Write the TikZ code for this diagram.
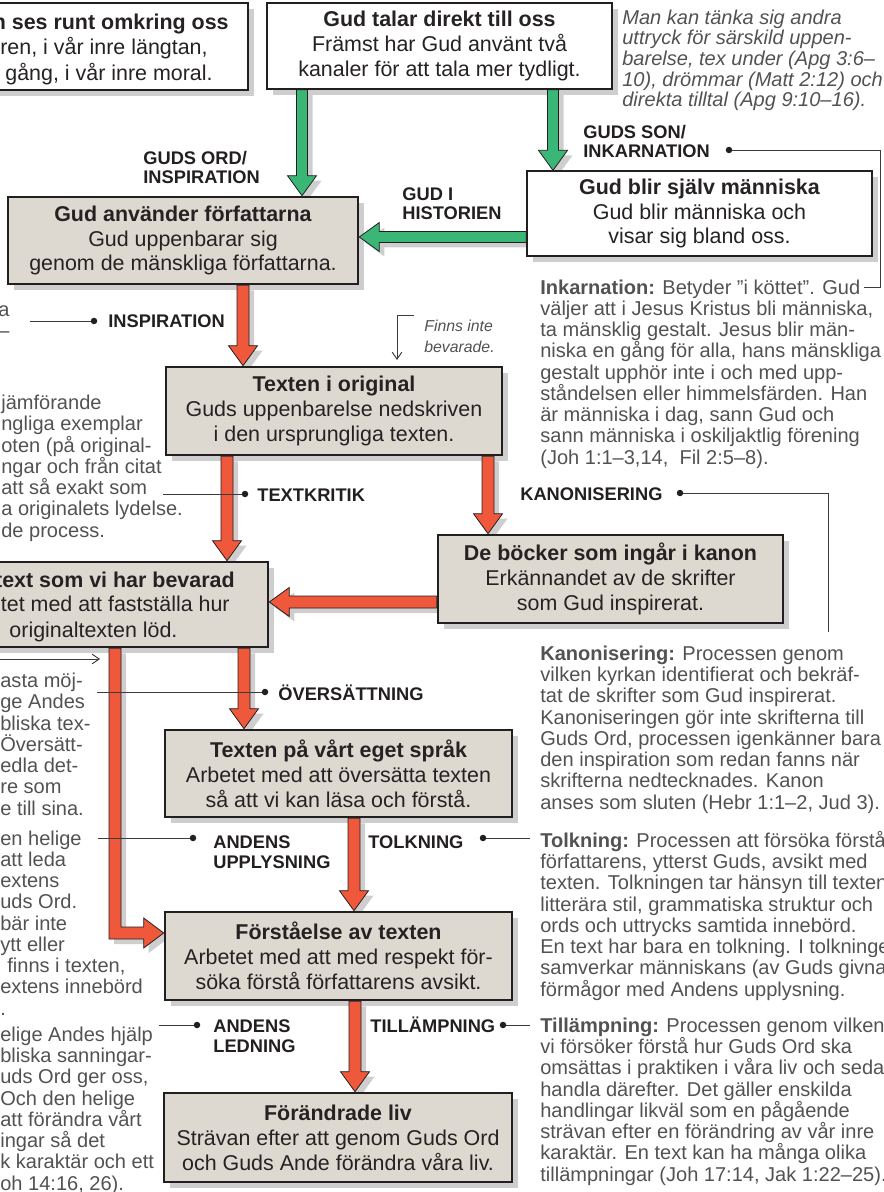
\documentclass[tikz,border=0pt]{standalone}
\usepackage{fontspec}
\setmainfont{Liberation Sans}
\usetikzlibrary{arrows.meta, positioning, calc, shadows}
\definecolor{boxfill}{RGB}{222,217,208}
\definecolor{boxline}{RGB}{35,31,32}
\definecolor{boxtext}{RGB}{38,34,35}
\definecolor{shadowgray}{RGB}{206,206,206}
\definecolor{greenfill}{RGB}{58,183,118}
\definecolor{redfill}{RGB}{240,88,60}
\definecolor{paragray}{RGB}{82,82,82}
\definecolor{leadergray}{RGB}{60,60,60}
\pgfdeclarelayer{arrowshadow}
\pgfsetlayers{arrowshadow,main}
\newcommand{\boxtextfont}{\fontsize{12.2}{14.2}\selectfont}
\newcommand{\tagtextfont}{\fontsize{10.4}{11.34}\selectfont\bfseries}
\newcommand{\paratextfont}{\fontsize{11.4}{12.07}\selectfont}
\newcommand{\notetextfont}{\fontsize{11.4}{11.8}\selectfont\itshape}
% block arrow: colour, from, to, half shaft width
\newcommand{\blockarrow}[4]{%
  \coordinate (ba-s) at (#2);
  \coordinate (ba-e) at (#3);
  \coordinate (ba-n) at ($(ba-e)!0.4cm!(ba-s)$);
  \coordinate (bs-s) at ($(ba-s)+(5,5)$);
  \coordinate (bs-e) at ($(ba-e)+(5,5)$);
  \coordinate (bs-n) at ($(ba-n)+(5,5)$);
  \begin{pgfonlayer}{arrowshadow}
    \fill[shadowgray] ($(bs-s)!#4!90:(bs-e)$) -- ($(bs-n)!#4!-90:(bs-s)$) -- ($(bs-n)!0.29cm!-90:(bs-s)$) -- (bs-e)
      -- ($(bs-n)!0.29cm!90:(bs-s)$) -- ($(bs-n)!#4!90:(bs-s)$) -- ($(bs-s)!#4!-90:(bs-e)$) -- cycle;
  \end{pgfonlayer}
  \filldraw[fill=#1, blockedge] ($(ba-s)!#4!90:(ba-e)$) -- ($(ba-n)!#4!-90:(ba-s)$) -- ($(ba-n)!0.29cm!-90:(ba-s)$) -- (ba-e)
    -- ($(ba-n)!0.29cm!90:(ba-s)$) -- ($(ba-n)!#4!90:(ba-s)$) -- ($(ba-s)!#4!-90:(ba-e)$) -- cycle;
}

\begin{document}
\begin{tikzpicture}[x=0.02cm, y=-0.02cm,
    mainbox/.style={draw=boxline, line width=1.5pt, fill=boxfill, align=center, inner sep=0pt,
        font=\boxtextfont, text=boxtext,
        drop shadow={shadow xshift=0.12cm, shadow yshift=-0.12cm, fill=shadowgray, opacity=1}},
    whitebox/.style={mainbox, line width=0.75pt, fill=white},
    boxfrag/.style={font=\boxtextfont, text=boxtext, inner sep=0pt},
    blockedge/.style={draw=boxline, line width=0.45pt, line join=miter},
    flowtag/.style={font=\tagtextfont, text=boxline, align=left, anchor=base west, inner sep=0pt},
    sidetext/.style={font=\paratextfont, text=paragray, align=left, anchor=base west, inner sep=0pt},
    sidenote/.style={font=\notetextfont, text=paragray, align=left, anchor=base west, inner sep=0pt},
    leaderline/.style={draw=leadergray, line width=0.55pt},
    thinarrow/.style={leaderline, -{Straight Barb[length=4pt,width=5.5pt]}}]
    \useasboundingbox (0,0) rectangle (883,1192);
    \clip (0,0) rectangle (883,1192);
    % (multi-line texts are placed by the baseline of their last line)

    % top row
    \node[whitebox, minimum width=6.9cm, minimum height=1.74cm] (topleft) at (75.5,46.5) {};
    \node[boxfrag, anchor=base east, font=\boxtextfont\bfseries] (topleft-1) at (229,30) {n ses runt omkring oss};
    \node[boxfrag, anchor=base east] (topleft-2) at (208,55) {ren, i vår inre längtan,};
    \node[boxfrag, anchor=base east] (topleft-3) at (213,81) {s gång, i vår inre moral.};
    \node[whitebox, minimum width=6.9cm, minimum height=1.72cm] (topmid) at (439.5,46)
        {\textbf{Gud talar direkt till oss}\\Främst har Gud använt två\\kanaler för att tala mer tydligt.};
    \node[sidenote] (note-top) at (622,107) {Man kan tänka sig andra\\uttryck för särskild uppen-\\barelse, tex under (Apg 3:6–\\10), drömmar (Matt 2:12) och\\direkta tilltal (Apg 9:10–16).};

    % special revelation
    \node[whitebox, minimum width=6.9cm, minimum height=1.70cm] (gudblir) at (699.5,213.5)
        {\textbf{Gud blir själv människa}\\Gud blir människa och\\visar sig bland oss.};
    \node[mainbox, minimum width=7cm, minimum height=1.74cm] (boxA) at (183,240.5)
        {\textbf{Gud använder författarna}\\Gud uppenbarar sig\\genom de mänskliga författarna.};

    % the text chain
    \node[mainbox, minimum width=6.72cm, minimum height=1.76cm] (boxB) at (334,411)
        {\textbf{Texten i original}\\Guds uppenbarelse nedskriven\\i den ursprungliga texten.};
    \node[mainbox, minimum width=6.9cm, minimum height=1.70cm] (boxC) at (95.5,604.5) {};
    \node[boxfrag, anchor=base east, font=\boxtextfont\bfseries] (boxC-1) at (235,587) {text som vi har bevarad};
    \node[boxfrag, anchor=base east] (boxC-2) at (230,611) {etet med att fastställa hur};
    \node[boxfrag, anchor=base] (boxC-3) at (93.5,637) {originaltexten löd.};
    \node[mainbox, minimum width=6.9cm, minimum height=1.76cm] (boxD) at (610.5,579)
        {\textbf{De böcker som ingår i kanon}\\Erkännandet av de skrifter\\som Gud inspirerat.};
    \node[mainbox, minimum width=6.94cm, minimum height=1.74cm] (boxE) at (338.5,773.5)
        {\textbf{Texten på vårt eget språk}\\Arbetet med att översätta texten\\så att vi kan läsa och förstå.};
    \node[mainbox, minimum width=6.94cm, minimum height=1.76cm] (boxF) at (338.5,956)
        {\textbf{Förståelse av texten}\\Arbetet med att med respekt för-\\söka förstå författarens avsikt.};
    \node[mainbox, minimum width=6.96cm, minimum height=1.78cm] (boxG) at (338,1137.5)
        {\textbf{Förändrade liv}\\Strävan efter att genom Guds Ord\\och Guds Ande förändra våra liv.};

    % arrow positions
    \coordinate (xg1) at (302,0);
    \coordinate (xg2) at (553,0);
    \coordinate (yg3) at (0,237);
    \coordinate (xr1) at (243,0);
    \coordinate (xr2) at (227,0);
    \coordinate (xr3) at (488,0);
    \coordinate (yr4) at (0,602);
    \coordinate (xr5) at (244,0);
    \coordinate (xr6) at (115,0);
    \coordinate (yr6) at (0,933);
    \coordinate (xr7) at (354,0);
    \coordinate (xr8) at (355,0);

    % green arrows
    \blockarrow{greenfill}{topmid.south -| xg1}{boxA.north -| xg1}{0.11cm}
    \blockarrow{greenfill}{topmid.south -| xg2}{gudblir.north -| xg2}{0.11cm}
    \blockarrow{greenfill}{gudblir.west |- yg3}{boxA.east |- yg3}{0.11cm}

    % red arrows
    \blockarrow{redfill}{boxA.south -| xr1}{boxB.north -| xr1}{0.12cm}
    \blockarrow{redfill}{boxB.south -| xr2}{boxC.north -| xr2}{0.12cm}
    \blockarrow{redfill}{boxB.south -| xr3}{boxD.north -| xr3}{0.12cm}
    \blockarrow{redfill}{boxD.west |- yr4}{boxC.east |- yr4}{0.12cm}
    \blockarrow{redfill}{boxC.south -| xr5}{boxE.north -| xr5}{0.12cm}
    \blockarrow{redfill}{boxE.south -| xr7}{boxF.north -| xr7}{0.12cm}
    \blockarrow{redfill}{boxF.south -| xr8}{boxG.north -| xr8}{0.12cm}

    % bent arrow down the left side
    \coordinate (bend-top) at (boxC.south -| xr6);
    \coordinate (bend-tip) at (boxF.west |- yr6);
    \coordinate (bend-corner) at (bend-top |- bend-tip);
    \begin{pgfonlayer}{arrowshadow}
      \fill[shadowgray] ($(bend-top)+(-1,5)$) -- ($(bend-corner)+(-1,11)$) -- ($(bend-tip)+(-15,11)$) -- ($(bend-tip)+(-15,20)$)
        -- ($(bend-tip)+(5,5)$) -- ($(bend-tip)+(-15,-10)$) -- ($(bend-tip)+(-15,-1)$) -- ($(bend-corner)+(11,-1)$) -- ($(bend-top)+(11,5)$) -- cycle;
    \end{pgfonlayer}
    \filldraw[fill=redfill, blockedge] ($(bend-top)+(-6,0)$) -- ($(bend-corner)+(-6,6)$) -- ($(bend-tip)+(-20,6)$) -- ($(bend-tip)+(-20,15)$)
        -- (bend-tip) -- ($(bend-tip)+(-20,-15)$) -- ($(bend-tip)+(-20,-6)$) -- ($(bend-corner)+(6,-6)$) -- ($(bend-top)+(6,0)$) -- cycle;

    % labels on the arrows
    \node[flowtag] (tag-gudsord) at (143,184) {GUDS ORD/\\INSPIRATION};
    \node[flowtag] (tag-gudi) at (402,220) {GUD I\\HISTORIEN};
    \node[flowtag] (tag-gudsson) at (583,158) {GUDS SON/\\INKARNATION};
    \node[flowtag] (tag-insp) at (108,328) {INSPIRATION};
    \node[flowtag] (tag-textkr) at (257,501) {TEXTKRITIK};
    \node[flowtag] (tag-kanon) at (520,500) {KANONISERING};
    \node[flowtag] (tag-overs) at (278,700) {ÖVERSÄTTNING};
    \node[flowtag] (tag-andup) at (213,868) {ANDENS\\UPPLYSNING};
    \node[flowtag] (tag-tolk) at (368,848) {TOLKNING};
    \node[flowtag] (tag-andled) at (213,1052) {ANDENS\\LEDNING};
    \node[flowtag] (tag-tillamp) at (370,1032) {TILLÄMPNING};

    % explanations on the right
    \node[sidetext] (para-ink) at (540,464) {\textbf{Inkarnation:} Betyder ”i köttet”. Gud\\väljer att i Jesus Kristus bli människa,\\ta mänsklig gestalt. Jesus blir män-\\niska en gång för alla, hans mänskliga\\gestalt upphör inte i och med upp-\\ståndelsen eller himmelsfärden. Han\\är människa i dag, sann Gud och\\sann människa i oskiljaktlig förening\\(Joh 1:1–3,14,\ \ Fil 2:5–8).};
    \node[sidetext] (para-kanon) at (540,809) {\textbf{Kanonisering:} Processen genom\\vilken kyrkan identifierat och bekräf-\\tat de skrifter som Gud inspirerat.\\Kanoniseringen gör inte skrifterna till\\Guds Ord, processen igenkänner bara\\den inspiration som redan fanns när\\skrifterna nedtecknades. Kanon\\anses som sluten (Hebr 1:1–2, Jud 3).};
    \node[sidetext] (para-tolk) at (540,996) {\textbf{Tolkning:} Processen att försöka förstå\\författarens, ytterst Guds, avsikt med\\texten. Tolkningen tar hänsyn till textens\\litterära stil, grammatiska struktur och\\ords och uttrycks samtida innebörd.\\En text har bara en tolkning. I tolkningen\\samverkar människans (av Guds givna)\\förmågor med Andens upplysning.};
    \node[sidetext] (para-tillamp) at (540,1181) {\textbf{Tillämpning:} Processen genom vilken\\vi försöker förstå hur Guds Ord ska\\omsättas i praktiken i våra liv och sedan\\handla därefter. Det gäller enskilda\\handlingar likväl som en pågående\\strävan efter en förändring av vår inre\\karaktär. En text kan ha många olika\\tillämpningar (Joh 17:14, Jak 1:22–25).};

    % explanations on the left
    \node[sidetext] (para-insp) at (-2,338) {a\\–};
    \node[sidetext] (para-textkr) at (1,537) {jämförande\\ngliga exemplar\\oten (på original-\\ngar och från citat\\att så exakt som\\a originalets lydelse.\\de process.};
    \node[sidetext] (para-overs) at (0,815) {asta möj-\\ge Andes\\bliska tex-\\Översätt-\\edla det-\\re som\\e till sina.};
    \node[sidetext] (para-andup) at (0,1015) {en helige\\att leda\\extens\\uds Ord.\\bär inte\\ytt eller\\\hspace*{4pt}finns i texten,\\extens innebörd\\.};
    \node[sidetext] (para-andled) at (0,1190) {elige Andes hjälp\\bliska sanningar-\\uds Ord ger oss,\\Och den helige\\att förändra vårt\\ingar så det\\k karaktär och ett\\oh 14:16, 26).};
    \node[sidenote, font=\fontsize{9}{12.5}\selectfont\itshape] (note-finns) at (424,353) {Finns inte\\bevarade.};

    % leader lines and dots
    \coordinate (dot-gudsson) at (729,150);
    \coordinate (dot-insp) at (94,321);
    \coordinate (dot-textkr) at (245,494);
    \coordinate (dot-kanon) at (680,493);
    \coordinate (dot-overs) at (265,692);
    \coordinate (dot-andup) at (193,838);
    \coordinate (dot-tolk) at (483,838);
    \coordinate (dot-andled) at (197,1025);
    \coordinate (dot-tillamp) at (503,1025);
    \coordinate (end-ink) at (864,287);
    \coordinate (end-kanon) at (828,632);
    \coordinate (end-tolk) at (530,838);
    \coordinate (end-tillamp) at (530,1025);
    \coordinate (end-insp) at (30,321);
    \coordinate (end-textkr) at (163,494);
    \coordinate (end-overs) at (97,692);
    \coordinate (end-andup) at (98,838);
    \coordinate (end-andled) at (159,1025);
    \draw[leaderline] (dot-gudsson) -- (880,150) |- (end-ink);
    \draw[leaderline] (dot-kanon) -| (end-kanon);
    \draw[leaderline] (dot-tolk) -- (end-tolk);
    \draw[leaderline] (dot-tillamp) -- (end-tillamp);
    \draw[leaderline] (end-insp) -- (dot-insp);
    \draw[leaderline] (end-textkr) -- (dot-textkr);
    \draw[leaderline] (end-overs) -- (dot-overs);
    \draw[leaderline] (end-andup) -- (dot-andup);
    \draw[leaderline] (end-andled) -- (dot-andled);
    \foreach \d in {gudsson,insp,textkr,kanon,overs,andup,tolk,andled,tillamp}
        \fill[boxline] (dot-\d) circle (0.065cm);

    % small pointer arrows
    \coordinate (ptr-start) at (-5,659);
    \coordinate (ptr-end) at (100,659);
    \draw[thinarrow] (ptr-start) -- (ptr-end);
    \coordinate (finns-a) at (414,315);
    \coordinate (finns-b) at (397,315);
    \coordinate (finns-c) at (397,360);
    \draw[thinarrow] (finns-a) -- (finns-b) -- (finns-c);
\end{tikzpicture}
\end{document}
